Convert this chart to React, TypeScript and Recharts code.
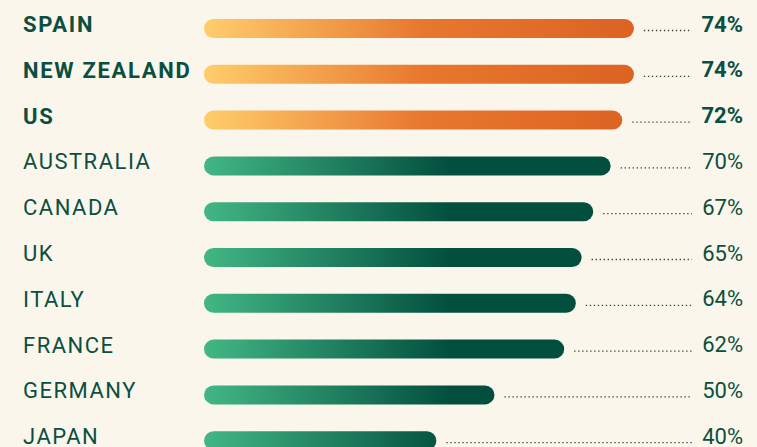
import React from 'react';
import { BarChart, Bar, XAxis, YAxis, LabelList, Cell } from 'recharts';

const countries = ['SPAIN', 'NEW ZEALAND', 'US', 'AUSTRALIA', 'CANADA', 'UK', 'ITALY', 'FRANCE', 'GERMANY', 'JAPAN'];
const shares = [74, 74, 72, 70, 67, 65, 64, 62, 50, 40];
const highlighted = ['SPAIN', 'NEW ZEALAND', 'US'];

const BG = '#FBF6EC';
const INK = '#0A4F40';
const PLOT_LEFT = 204;
const DOTS_END = 692;

const chartData = countries.map((country, i) => ({
  country,
  share: shares[i],
  top: highlighted.includes(country),
}));

function CountryTick({ y, payload }: any) {
  const top = highlighted.includes(payload.value);
  return (
    <text
      x={23}
      y={y + 3}
      fill={INK}
      fontSize={22}
      fontWeight={top ? 700 : 400}
      letterSpacing={top ? 1.7 : 1.5}
      fontFamily="Roboto, sans-serif"
      textAnchor="start"
    >
      {payload.value}
    </text>
  );
}

function ValueLabel({ x, y, width, height, value, index }: any) {
  const top = chartData[index].top;
  const end = x + width;
  const cy = y + height / 2;
  return (
    <g>
      <line
        x1={end + 10}
        x2={DOTS_END}
        y1={cy + 2}
        y2={cy + 2}
        stroke="#3a3a3a"
        strokeWidth={1.3}
        strokeDasharray="1.3 2.7"
      />
      <text
        x={743}
        y={cy + 3}
        fill={INK}
        fontSize={22}
        fontWeight={top ? 700 : 400}
        fontFamily="Roboto, sans-serif"
        textAnchor="end"
      >
        {value}%
      </text>
    </g>
  );
}

export default function App() {
  return (
    <div
      style={{
        position: 'fixed',
        left: 0,
        top: 0,
        width: 757,
        height: 447,
        overflow: 'hidden',
        background: BG,
      }}
    >
      <BarChart
        width={757}
        height={464}
        data={chartData}
        layout="vertical"
        margin={{ top: 6, right: 757 - DOTS_END, left: 0, bottom: 0 }}
      >
        <defs>
          <linearGradient id="orangeGrad" gradientUnits="userSpaceOnUse" x1={PLOT_LEFT} y1={0} x2={640} y2={0}>
            <stop offset="0%" stopColor="#FFCD6C" />
            <stop offset="50%" stopColor="#E8782E" />
            <stop offset="100%" stopColor="#DC6222" />
          </linearGradient>
          <linearGradient id="greenGrad" gradientUnits="userSpaceOnUse" x1={PLOT_LEFT} y1={0} x2={450} y2={0}>
            <stop offset="0%" stopColor="#42B785" />
            <stop offset="100%" stopColor="#024F3E" />
          </linearGradient>
        </defs>
        <XAxis type="number" domain={[0, 84]} hide />
        <YAxis
          type="category"
          dataKey="country"
          width={PLOT_LEFT}
          axisLine={false}
          tickLine={false}
          tick={<CountryTick />}
          interval={0}
        />
        <Bar dataKey="share" barSize={19} radius={9.5} isAnimationActive={false}>
          {chartData.map((d) => (
            <Cell key={d.country} fill={d.top ? 'url(#orangeGrad)' : 'url(#greenGrad)'} />
          ))}
          <LabelList dataKey="share" content={<ValueLabel />} />
        </Bar>
      </BarChart>
    </div>
  );
}
